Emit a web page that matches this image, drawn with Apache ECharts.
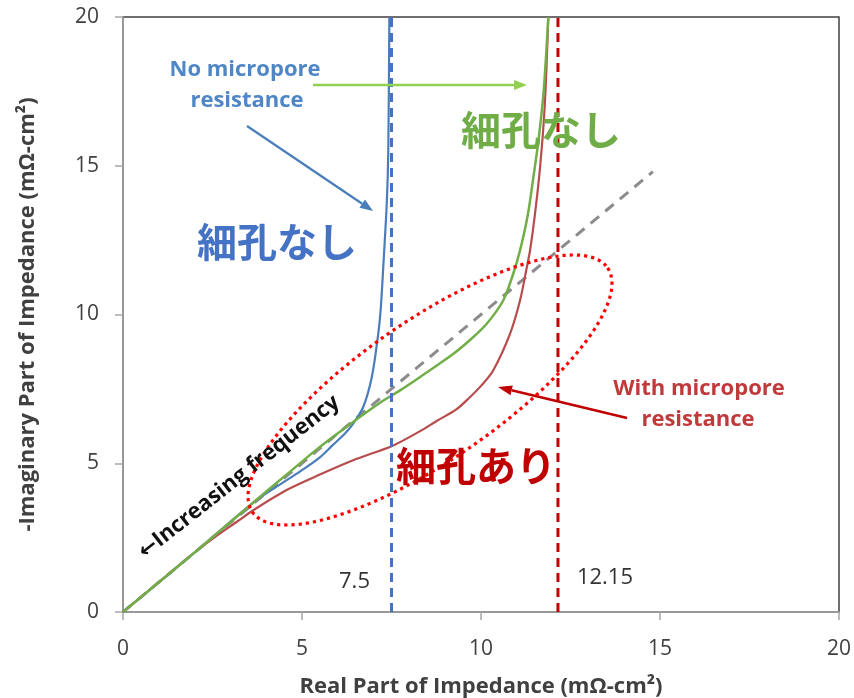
<!DOCTYPE html>
<html><head><meta charset="utf-8">
<script src="https://cdn.jsdelivr.net/npm/echarts@6/dist/echarts.min.js"></script>
<style>html,body{margin:0;padding:0;background:#fff}#c{width:854px;height:698px}</style>
</head><body><div id="c"></div>
<script>
// ---- data ----
const xTickValues = [0, 5, 10, 15, 20];
const yTickValues = [0, 5, 10, 15, 20];
const blueCurve = [[0,0],[2,2],[3.64,3.68],[4.3,4.22],[4.94,4.72],[5.5,5.2],[5.85,5.6],[6.2,6.0],[6.43,6.33],[6.71,6.89],[6.95,7.9],[7.13,9.35],[7.2,10.2],[7.27,11.6],[7.37,13.8],[7.41,15.5],[7.44,20]];
const greenCurve = [[0,0],[2,2],[3.64,3.68],[4.6,4.65],[5.5,5.55],[6.5,6.45],[7.2,7.05],[7.74,7.45],[8.3,7.9],[9.23,8.68],[9.7,9.15],[10.16,9.69],[10.62,10.47],[10.9,11.37],[11.09,12.15],[11.3,13.3],[11.45,14.5],[11.6,15.8],[11.75,17.5],[11.88,20]];
const redCurve = [[0,0],[1,1],[2,2],[2.6,2.55],[3.2,3.05],[3.64,3.42],[4.57,4.1],[5.5,4.62],[6.43,5.1],[7.55,5.6],[8.3,6.08],[8.76,6.42],[9.3,6.8],[9.69,7.22],[10.0,7.6],[10.34,8.12],[10.81,9.35],[11.09,10.47],[11.28,11.59],[11.37,12.15],[11.5,13.3],[11.65,14.95],[11.78,17],[11.88,20]];
const referenceLine = [[0,0],[14.8,14.8]];
const blueLimit = [[7.5,0],[7.5,20]];
const redLimit = [[12.15,0],[12.15,20]];
const limitLabels = ['7.5', '12.15'];

const chart = echarts.init(document.getElementById('c'), null, {renderer:'canvas'});
const LAT = "'Open Sans','DejaVu Sans',sans-serif";
const CJK = "'Noto Sans CJK JP',sans-serif";

const option = {
  animation: false,
  backgroundColor: '#ffffff',
  grid: {left:123, right:15, top:17, bottom:86, show:true, containLabel:false, outerBoundsMode:'none', borderColor:'#404040', borderWidth:1.5, backgroundColor:'transparent'},
  xAxis: {
    type:'value', min:0, max:20, interval:5,
    name:'Real Part of Impedance (mΩ-cm²)', nameLocation:'middle', nameGap:64,
    nameTextStyle:{fontFamily:LAT, fontWeight:'bold', fontSize:22, color:'#404040'},
    axisLine:{show:true, lineStyle:{color:'#a6a6a6', width:1.5}},
    axisTick:{show:true, inside:false, length:8, lineStyle:{color:'#a6a6a6', width:1.5}},
    axisLabel:{fontFamily:LAT, fontSize:21, color:'#404040', margin:27},
    splitLine:{show:false}
  },
  yAxis: {
    type:'value', min:0, max:20, interval:5,
    name:'-Imaginary Part of Impedance (mΩ-cm²)', nameLocation:'middle', nameGap:84,
    nameTextStyle:{fontFamily:LAT, fontWeight:'bold', fontSize:22, color:'#404040'},
    axisLine:{show:true, lineStyle:{color:'#a6a6a6', width:1.5}},
    axisTick:{show:true, inside:false, length:8, lineStyle:{color:'#a6a6a6', width:1.5}},
    axisLabel:{fontFamily:LAT, fontSize:21, color:'#404040', margin:24},
    splitLine:{show:false}
  },
  series: [
    {type:'line', data:referenceLine, symbol:'none', z:1, lineStyle:{color:'#8c8c8c', width:3, type:[11,8]}},
    {type:'line', data:blueCurve, symbol:'none', smooth:0.3, z:2, lineStyle:{color:'#4a7ebb', width:2.2}},
    {type:'line', data:redCurve, symbol:'none', smooth:0.3, z:3, lineStyle:{color:'#b84c4c', width:2.2}},
    {type:'line', data:greenCurve, symbol:'none', smooth:0.3, z:4, lineStyle:{color:'#72ae48', width:2.5}},
    {type:'line', data:blueLimit, symbol:'none', z:5, lineStyle:{color:'#4472c4', width:3, type:[9,6]}},
    {type:'line', data:redLimit, symbol:'none', z:5, lineStyle:{color:'#c00000', width:3, type:[9,6]}}
  ]
};
chart.setOption(option);

function P(x,y){ return chart.convertToPixel({gridIndex:0},[x,y]); }
function arrow(x1,y1,x2,y2,color,w,hl,hw){
  const a = Math.atan2(y2-y1,x2-x1);
  const bx = x2-hl*Math.cos(a), by = y2-hl*Math.sin(a);
  const nx = -Math.sin(a)*hw/2, ny = Math.cos(a)*hw/2;
  return [
    {type:'line', z:20, shape:{x1:x1,y1:y1,x2:bx,y2:by}, style:{stroke:color, lineWidth:w}},
    {type:'polygon', z:20, shape:{points:[[x2,y2],[bx+nx,by+ny],[bx-nx,by-ny]]}, style:{fill:color}}
  ];
}
function txt(x,y,text,font,color,extra){
  return Object.assign({type:'text', z:30, x:x, y:y, style:{text:text, font:font, fill:color, align:'center', verticalAlign:'middle'}}, extra||{});
}
// dotted ellipse (annotation)
const ell = (function(){
  const cx=430, cy=390, a=215.5, b=70, th=34.5*Math.PI/180, pts=[];
  for(let i=0;i<180;i++){
    const t=i/180*2*Math.PI, ca=Math.cos(t)*a, sb=Math.sin(t)*b;
    pts.push([cx+ca*Math.cos(th)+sb*Math.sin(th), cy-ca*Math.sin(th)+sb*Math.cos(th)]);
  }
  return {type:'polygon', z:25, shape:{points:pts}, style:{fill:'none', stroke:'#ff0000', lineWidth:3.2, lineDash:[3.2,4]}};
})();

const pB = P(7.5,0), pR = P(12.15,0);
const g = [].concat(
  arrow(247,126,373,211,'#4a7ebb',2.2,13,10),
  arrow(313,85,527,85,'#92d050',2.5,13,10),
  arrow(627,418,498,387,'#c00000',2.5,14,10),
  [ell,
   txt(245,70,'No micropore',"bold 22px "+LAT,'#4f86c6'),
   txt(247,101,'resistance',"bold 22px "+LAT,'#4f86c6'),
   txt(277,242,'細孔なし',"bold 40px "+CJK,'#4472c4'),
   txt(541,130,'細孔なし',"bold 40px "+CJK,'#70ad47'),
   txt(476,466,'細孔あり',"bold 40px "+CJK,'#c00000'),
   txt(699,389,'With micropore',"bold 22px "+LAT,'#c0393b'),
   txt(698,420,'resistance',"bold 22px "+LAT,'#c0393b'),
   txt(pB[0]-37,582,limitLabels[0],"22px "+LAT,'#333333'),
   txt(pR[0]+47,578,limitLabels[1],"22px "+LAT,'#333333'),
   txt(239,477,'←Increasing frequency',"bold 22px "+LAT,'#111111',{rotation:38.2*Math.PI/180})
  ]
);
chart.setOption({graphic:{elements:g}});
</script></body></html>
